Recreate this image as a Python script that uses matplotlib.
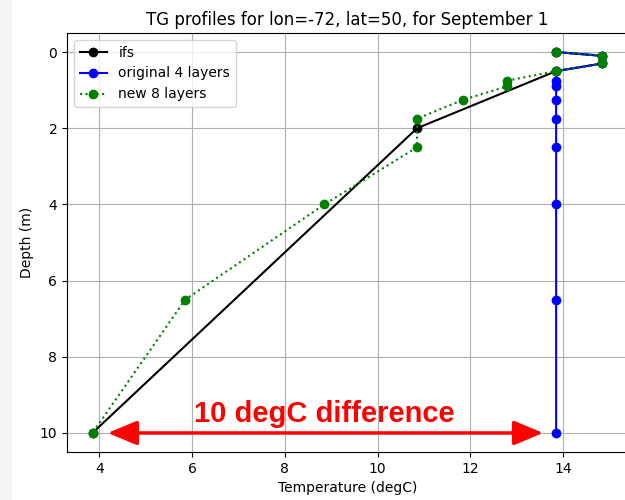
import numpy as np
import matplotlib
matplotlib.use('Agg')
import matplotlib.pyplot as plt
from matplotlib.patches import Rectangle

# soil temperature profiles (degC) against depth (m)
ifs_depth = [0.0, 0.1, 0.3, 0.5, 2.0, 10.0]
ifs_tg = [13.85, 14.85, 14.85, 13.85, 10.85, 3.85]

orig_depth = [0.0, 0.1, 0.3, 0.5, 0.75, 0.9, 1.25, 1.75, 2.5, 4.0, 6.5, 10.0]
orig_tg = [13.85, 14.85, 14.85, 13.85, 13.85, 13.85, 13.85, 13.85, 13.85, 13.85, 13.85, 13.85]

new_depth = [0.0, 0.1, 0.3, 0.5, 0.75, 0.9, 1.25, 1.75, 2.5, 4.0, 6.5, 10.0]
new_tg = [13.85, 14.85, 14.85, 13.85, 12.8, 12.8, 11.85, 10.85, 10.85, 8.85, 5.85, 3.85]

diff_depth = 10.0
diff_lo, diff_hi = 4.18, 13.57

fig = plt.figure(figsize=(6.25, 5), dpi=100)
fig.patches.append(Rectangle((0, 0), 11 / 625, 1, transform=fig.transFigure,
                             color='#f3f4f6', zorder=-1))
ax = fig.add_axes([67 / 625, 48 / 500, 561 / 625, 419 / 500])

ax.plot(ifs_tg, ifs_depth, '-o', color='black', label='ifs')
ax.plot(orig_tg, orig_depth, '-o', color='blue', label='original 4 layers')
ax.plot(new_tg, new_depth, ':o', color='green', label='new 8 layers')

ax.invert_yaxis()
ax.grid(True)
ax.legend(loc='upper left')
ax.set_xlabel('Temperature (degC)')
ax.set_ylabel('Depth (m)')
ax.set_title('TG profiles for lon=-72, lat=50, for September 1')

ax.annotate('', xy=(diff_lo, diff_depth), xytext=(diff_hi, diff_depth),
            arrowprops=dict(arrowstyle='<|-|>,head_length=1.8,head_width=0.75',
                            color='red', lw=2.5, mutation_scale=10,
                            shrinkA=0, shrinkB=0))
ax.text((diff_lo + diff_hi) / 2 - 0.02, 9.72, '10 degC difference', color='red',
        fontsize=21, fontweight='bold', family='Liberation Sans',
        ha='center', va='baseline')

fig.savefig('out.png', dpi=100)
